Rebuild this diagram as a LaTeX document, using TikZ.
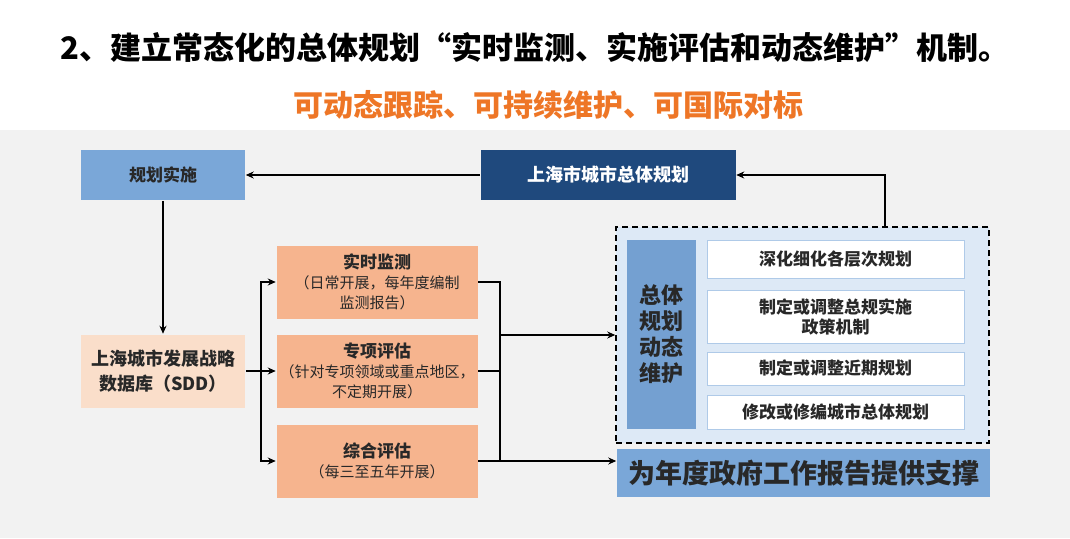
\documentclass[tikz,border=0pt]{standalone}
\usepackage{fontspec}
\setmainfont{Noto Sans CJK SC}
\usetikzlibrary{arrows.meta,positioning}
\definecolor{lightblue}{RGB}{122,167,216}
\definecolor{navy}{RGB}{31,73,125}
\definecolor{peach}{RGB}{250,222,202}
\definecolor{salmon}{RGB}{246,180,142}
\definecolor{paleblue}{RGB}{221,233,246}
\definecolor{midblue}{RGB}{116,160,209}
\definecolor{txt}{RGB}{40,40,40}
\definecolor{orangetxt}{RGB}{238,118,38}
\definecolor{bggray}{RGB}{242,242,242}
\newcommand\smalltxt{\mdseries\fontsize{15}{18}\selectfont}

\begin{document}
\begin{tikzpicture}[x=1pt,y=-1pt,>={Stealth[length=8pt,width=7pt]},line width=1.5pt,
  box/.style={draw=none,inner sep=0pt,align=center,text=txt,font=\fontsize{17}{20}\selectfont\bfseries},
  stage/.style={box,fill=salmon,minimum width=201pt,minimum height=73pt},
  task/.style={box,fill=white,draw=lightblue!60,line width=0.8pt,minimum width=257pt}]
  \useasboundingbox (0,0) rectangle (1070,538);
  \fill[bggray] (0,130) rectangle (1070,538);

  \node[font=\fontsize{31}{36}\selectfont\bfseries] (title) at (535,48) {2、建立常态化的总体规划“实时监测、实施评估和动态维护”机制。};
  \node[font=\fontsize{30}{34}\selectfont\bfseries,text=orangetxt] (sub) at (548,105) {可动态跟踪、可持续维护、可国际对标};

  \node[box,fill=lightblue,minimum width=164pt,minimum height=50pt] (impl) at (163,175) {规划实施};
  \node[box,fill=navy,text=white,minimum width=255pt,minimum height=50pt,font=\fontsize{18}{21}\selectfont\bfseries] (master) at (608,175) {上海市城市总体规划};
  \node[box,fill=peach,minimum width=164pt,minimum height=73pt,font=\fontsize{18}{25}\selectfont\bfseries] (sdd) at (163,371) {上海城市发展战略\\数据库（SDD）};

  \node[stage] (mon) at (377,282) {实时监测\\\smalltxt （日常开展，每年度编制\\\smalltxt 监测报告）};
  \node[stage] (spec) at (377,371) {专项评估\\\smalltxt （针对专项领域或重点地区，\\\smalltxt 不定期开展）};
  \node[stage] (comp) at (377,461) {综合评估\\\smalltxt （每三至五年开展）};

  \node[draw=black,dash pattern=on 6pt off 4pt,line width=1.5pt,fill=paleblue,minimum width=373pt,minimum height=216pt,inner sep=0pt] (maint) at (802.5,335) {};
  \node[box,fill=midblue,minimum width=69pt,minimum height=189pt,font=\fontsize{22}{26}\selectfont\bfseries] (col) at (661.5,334.5) {总体\\规划\\动态\\维护};
  \node[task,minimum height=38pt] (t1) at (835.5,259) {深化细化各层次规划};
  \node[task,minimum height=53pt] (t2) at (835.5,316.5) {制定或调整总规实施\\政策机制};
  \node[task,minimum height=33pt] (t3) at (835.5,368.5) {制定或调整近期规划};
  \node[task,minimum height=34pt] (t4) at (835.5,412) {修改或修编城市总体规划};
  \node[box,fill=lightblue,minimum width=373pt,minimum height=48pt,font=\fontsize{27}{31}\selectfont\bfseries] (report) at (803.5,473) {为年度政府工作报告提供支撑};

  \coordinate (split) at (261,371);
  \coordinate (join) at (500,335);

  \draw[->] (master.west) -- (impl.east);
  \draw[->] (maint.north -| 885,0) |- (master.east);
  \draw[->] (impl.south) -- (sdd.north);
  \draw (sdd.east) -- (split);
  \draw[->] (split) |- (mon.west);
  \draw[->] (split) -- (spec.west);
  \draw[->] (split) |- (comp.west);
  \draw (mon.east) -| (join);
  \draw (spec.east) -| (join);
  \draw (comp.east) -| (join);
  \draw[->] (join) -- (join -| maint.west);
  \draw[->] (comp.east -| join) -- (report.west |- comp.east);
\end{tikzpicture}
\end{document}
